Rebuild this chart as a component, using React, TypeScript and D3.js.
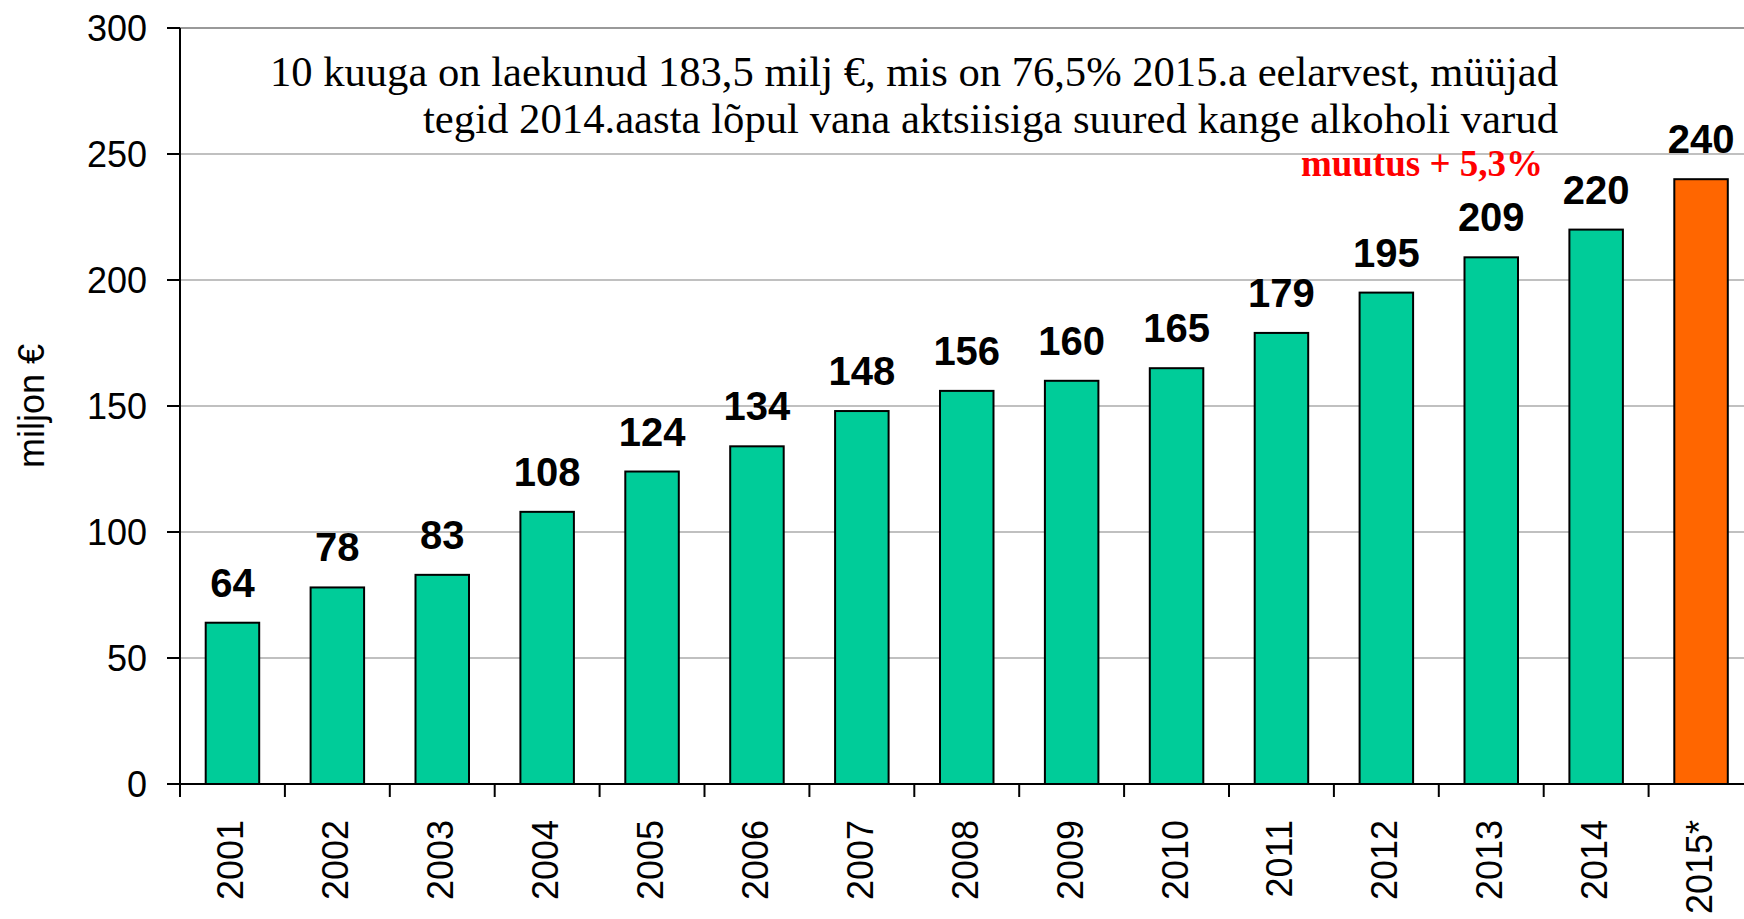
import React from "react";
import * as d3 from "d3";

const years = ["2001","2002","2003","2004","2005","2006","2007","2008","2009","2010","2011","2012","2013","2014","2015*"];
const values = [64, 78, 83, 108, 124, 134, 148, 156, 160, 165, 179, 195, 209, 220, 240];
const barColors = ["#00CC99","#00CC99","#00CC99","#00CC99","#00CC99","#00CC99","#00CC99","#00CC99","#00CC99","#00CC99","#00CC99","#00CC99","#00CC99","#00CC99","#FF6600"];
const yTicks = [0, 50, 100, 150, 200, 250, 300];
const yTitle = "miljon €";
const noteLines = [
  "10 kuuga on laekunud 183,5 milj €, mis on 76,5% 2015.a eelarvest, müüjad",
  "tegid 2014.aasta lõpul vana aktsiisiga suured kange alkoholi varud",
];
const changeNote = "muutus + 5,3%";

const W = 1744, H = 919;
const left = 180, top = 28, bottom = 784;
const step = 104.9;

export default function App() {
  const x = d3.scaleBand<string>().domain(years).range([left, left + step * years.length]).paddingInner(0.49).paddingOuter(0.245);
  const y = d3.scaleLinear().domain([0, 300]).range([bottom, top]);
  const sans = "'Liberation Sans', Arial, sans-serif";
  const serif = "'Liberation Serif', 'Times New Roman', serif";
  const boundaries = d3.range(years.length + 1).map(i => left + i * x.step());
  return (
    <svg width={W} height={H} style={{ position: "absolute", left: 0, top: 0, background: "#fff" }}>
      <rect x={0} y={0} width={W} height={H} fill="#fff" />
      {yTicks.filter(t => t > 0).map(t => (
        <line key={"g" + t} x1={left} x2={W} y1={y(t)} y2={y(t)} stroke={t === 300 ? "#999" : "#c0c0c0"} strokeWidth={2} />
      ))}
      {years.map((yr, i) => (
        <rect key={yr} x={x(yr)!} y={y(values[i])} width={x.bandwidth()} height={y(0) - y(values[i])}
          fill={barColors[i]} stroke="#000" strokeWidth={2} />
      ))}
      {years.map((yr, i) => (
        <text key={"v" + yr} x={x(yr)! + x.bandwidth() / 2} y={y(values[i]) - 26} textAnchor="middle"
          fontFamily={sans} fontWeight="bold" fontSize={40} fill="#000">{values[i]}</text>
      ))}
      <line x1={left} x2={left} y1={top} y2={bottom} stroke="#000" strokeWidth={2} />
      <line x1={167} x2={W} y1={bottom} y2={bottom} stroke="#000" strokeWidth={2} />
      {yTicks.map(t => (
        <g key={"t" + t}>
          <line x1={167} x2={left} y1={y(t)} y2={y(t)} stroke="#000" strokeWidth={2} />
          <text x={147} y={y(t)} dy="0.36em" textAnchor="end" fontFamily={sans} fontSize={36} fill="#000">{t}</text>
        </g>
      ))}
      {boundaries.map((b, i) => (
        <line key={"xt" + i} x1={b} x2={b} y1={bottom} y2={bottom + 13} stroke="#000" strokeWidth={2} />
      ))}
      {years.map(yr => (
        <text key={"xl" + yr} transform={`translate(${x(yr)! + x.bandwidth() / 2 - 2},${820}) rotate(-90)`}
          textAnchor="end" dy="0.36em" fontFamily={sans} fontSize={36} fill="#000">{yr}</text>
      ))}
      <text transform={`translate(31,406) rotate(-90)`} textAnchor="middle" dy="0.36em" fontFamily={sans} fontSize={36} fill="#000">{yTitle}</text>
      <text x={1558} y={86} textAnchor="end" fontFamily={serif} fontSize={43} fill="#000"
        textLength={1288} lengthAdjust="spacingAndGlyphs">{noteLines[0]}</text>
      <text x={1558} y={133} textAnchor="end" fontFamily={serif} fontSize={43} fill="#000"
        textLength={1135} lengthAdjust="spacingAndGlyphs">{noteLines[1]}</text>
      <text x={1543} y={176} textAnchor="end" fontFamily={serif} fontWeight="bold" fontSize={37} fill="#FF0000">{changeNote}</text>
    </svg>
  );
}
